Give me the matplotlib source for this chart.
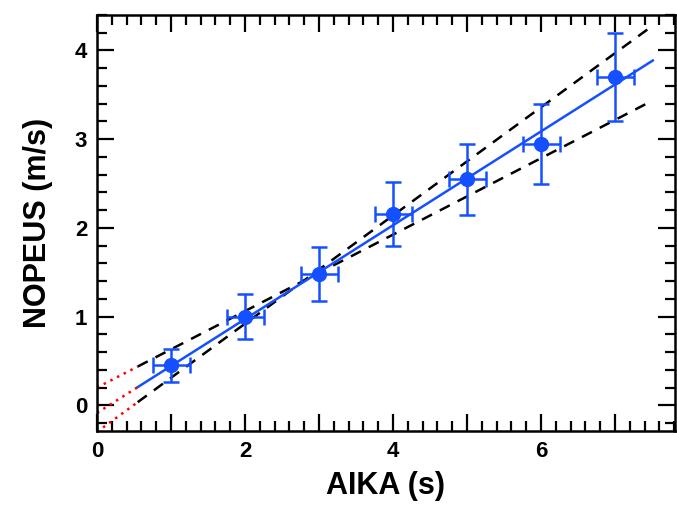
import matplotlib.pyplot as plt
import numpy as np
from matplotlib.ticker import MultipleLocator, FuncFormatter

plt.rcParams['font.family'] = ['Liberation Sans', 'DejaVu Sans']

# measured data
aika = np.array([1, 2, 3, 4, 5, 6, 7])
nopeus = np.array([0.45, 1.00, 1.48, 2.16, 2.55, 2.95, 3.70])
nopeus_err = np.array([0.19, 0.25, 0.30, 0.36, 0.40, 0.45, 0.50])
aika_err = np.array([0.25, 0.25, 0.25, 0.25, 0.25, 0.25, 0.25])

# fitted line and min/max slope lines (slope, intercept)
fit = (0.529, -0.086)
min_line = (0.431, 0.20)
max_line = (0.610, -0.30)
x_start, x_end = 0.55, 7.51

blue = '#1450ff'
lw = 1.8

fig = plt.figure(figsize=(6.77, 5.09), dpi=100)
ax = fig.add_axes([0.1433, 0.1532, 0.8537, 0.8173])

xx = np.linspace(x_start, x_end, 200)
x0 = np.linspace(0, x_start, 50)
for k, b in (min_line, max_line):
    ax.plot(xx, k * xx + b, color='black', ls=(0, (4.5, 3.5)), lw=lw)
    ax.plot(x0, k * x0 + b, color='red', ls=(0, (1, 2)), lw=lw)
k, b = fit
ax.plot(xx, k * xx + b, color=blue, lw=lw)
ax.plot(x0, k * x0 + b, color='red', ls=(0, (1, 2)), lw=lw)

ax.errorbar(aika, nopeus, yerr=nopeus_err, xerr=aika_err, fmt='o', color=blue,
            ms=10, elinewidth=lw, capsize=5.5, capthick=lw, zorder=5)

ax.set_xlim(0, 7.81)
ax.set_ylim(-0.29, 4.4)

ax.xaxis.set_major_locator(MultipleLocator(1))
ax.xaxis.set_minor_locator(MultipleLocator(0.2))
ax.xaxis.set_major_formatter(FuncFormatter(lambda v, p: '%d' % v if round(v) % 2 == 0 else ''))
ax.yaxis.set_major_locator(MultipleLocator(1))
ax.yaxis.set_minor_locator(MultipleLocator(0.2))

ax.tick_params(which='both', direction='in', top=True, right=True, width=1.6)
ax.tick_params(which='major', length=12, labelsize=16, pad=7)
ax.tick_params(which='minor', length=7)
for t in ax.xaxis.get_major_ticks():
    v = t.get_loc()
    if round(v) % 2 == 1:
        t.tick1line.set_markersize(9)
        t.tick2line.set_markersize(9)
for lab in ax.get_xticklabels() + ax.get_yticklabels():
    lab.set_fontweight('bold')
for s in ax.spines.values():
    s.set_linewidth(1.8)

ax.set_xlabel('AIKA (s)', fontsize=22, fontweight='bold', labelpad=7)
ax.set_ylabel('NOPEUS (m/s)', fontsize=22, fontweight='bold', labelpad=16)

fig.savefig('out.png', dpi=100)
